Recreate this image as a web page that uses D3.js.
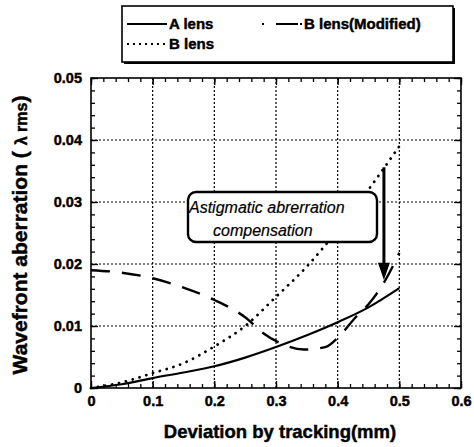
<!DOCTYPE html>
<html>
<head>
<meta charset="utf-8">
<script src="https://cdn.jsdelivr.net/npm/d3@7"></script>
<style>
  body { margin: 0; background: #fff; }
  text { font-family: "Liberation Sans", Arial, sans-serif; }
  .heavy { font-weight: bold; stroke: #000; stroke-width: 0.45px; }
</style>
</head>
<body>
<svg id="my_svg"></svg>
<script>
const width = 474;
const height = 447;

// data
const xValues = [0, 0.05, 0.1, 0.15, 0.2, 0.25, 0.3, 0.35, 0.4, 0.45, 0.5];
const aLens = [0, 0.0006, 0.0016, 0.0025, 0.0035, 0.0049, 0.0066, 0.0085, 0.0106, 0.013, 0.0161];
const bLens = [0, 0.0009, 0.0024, 0.004, 0.0067, 0.01, 0.0147, 0.0196, 0.0255, 0.032, 0.039];
const bModX = [0, 0.05, 0.1, 0.15, 0.2, 0.25, 0.28, 0.31, 0.345, 0.38, 0.4, 0.43, 0.45, 0.475, 0.5];
const bModified = [0.019, 0.0186, 0.0177, 0.0162, 0.0142, 0.0114, 0.0088, 0.0071, 0.0062, 0.0066, 0.0081, 0.0115, 0.0135, 0.017, 0.0218];
const xTicks = [0, 0.1, 0.2, 0.3, 0.4, 0.5, 0.6];
const yTicks = [0, 0.01, 0.02, 0.03, 0.04, 0.05];

const margin = {left: 91, right: 13, top: 78, bottom: 59};

const svg = d3.select('#my_svg')
    .attr('width', width)
    .attr('height', height);

const x = d3.scaleLinear().domain([0, 0.6]).range([margin.left, width - margin.right]);
const y = d3.scaleLinear().domain([0, 0.05]).range([height - margin.bottom, margin.top]);

// grid
const grid_g = svg.append('g')
    .attr('stroke', '#000')
    .attr('stroke-width', 1.2)
    .attr('stroke-dasharray', '2,2');
grid_g.selectAll('.gx')
    .data(xTicks.slice(1, -1))
    .enter().append('line')
    .attr('x1', d => x(d)).attr('x2', d => x(d))
    .attr('y1', y(0)).attr('y2', y(0.05));
grid_g.selectAll('.gy')
    .data(yTicks.slice(1, -1))
    .enter().append('line')
    .attr('x1', x(0)).attr('x2', x(0.6))
    .attr('y1', d => y(d)).attr('y2', d => y(d));

// axes with inner ticks on all four sides
const xMinor = d3.range(0, 0.6001, 0.02);
const yMinor = d3.range(0, 0.05001, 0.002);

function addAxis(axis, tr) {
    const g = svg.append('g')
        .attr('transform', tr)
        .call(axis);
    g.select('.domain').remove();
    g.selectAll('line').attr('stroke-width', 1.3);
    return g;
}

addAxis(d3.axisBottom(x).tickValues(xMinor).tickSize(-4).tickFormat(''), `translate(0,${y(0)})`);
addAxis(d3.axisTop(x).tickValues(xMinor).tickSize(-4).tickFormat(''), `translate(0,${y(0.05)})`);
addAxis(d3.axisLeft(y).tickValues(yMinor).tickSize(-4).tickFormat(''), `translate(${x(0)},0)`);
addAxis(d3.axisRight(y).tickValues(yMinor).tickSize(-4).tickFormat(''), `translate(${x(0.6)},0)`);

const xAxis = addAxis(d3.axisBottom(x).tickValues(xTicks).tickSize(-7).tickPadding(8)
    .tickFormat(d => d === 0 ? '0' : d3.format('.1f')(d)), `translate(0,${y(0)})`);
xAxis.selectAll('text')
    .attr('class', 'heavy')
    .attr('font-size', 14.5).attr('fill', '#000')
    .attr('font-family', '"Liberation Sans", Arial, sans-serif');

const yAxis = addAxis(d3.axisLeft(y).tickValues(yTicks).tickSize(-7).tickPadding(9)
    .tickFormat(d => d === 0 ? '0' : d3.format('.2f')(d)), `translate(${x(0)},0)`);
yAxis.selectAll('text')
    .attr('class', 'heavy')
    .attr('font-size', 14.5).attr('fill', '#000')
    .attr('font-family', '"Liberation Sans", Arial, sans-serif');

addAxis(d3.axisTop(x).tickValues(xTicks).tickSize(-7).tickFormat(''), `translate(0,${y(0.05)})`);
addAxis(d3.axisRight(y).tickValues(yTicks).tickSize(-7).tickFormat(''), `translate(${x(0.6)},0)`);

// frame
svg.append('rect')
    .attr('x', x(0)).attr('y', y(0.05))
    .attr('width', x(0.6) - x(0)).attr('height', y(0) - y(0.05))
    .attr('fill', 'none').attr('stroke', '#000').attr('stroke-width', 1.6);

// curves
const line = d3.line().curve(d3.curveMonotoneX);

svg.append('path')
    .attr('d', line(xValues.map((d, i) => [x(d), y(aLens[i])])))
    .attr('fill', 'none').attr('stroke', '#000').attr('stroke-width', 2.2);

svg.append('path')
    .attr('d', line(xValues.map((d, i) => [x(d), y(bLens[i])])))
    .attr('fill', 'none').attr('stroke', '#000').attr('stroke-width', 2.8)
    .attr('stroke-linecap', 'round')
    .attr('stroke-dasharray', '0.1,7');

svg.append('path')
    .attr('d', line(bModX.map((d, i) => [x(d), y(bModified[i])])))
    .attr('fill', 'none').attr('stroke', '#000').attr('stroke-width', 2.4)
    .attr('stroke-dasharray', '19,12');

// annotation box
const note_g = svg.append('g');
note_g.append('rect')
    .attr('x', 188).attr('y', 192)
    .attr('width', 189).attr('height', 50)
    .attr('rx', 8)
    .attr('fill', '#fff').attr('stroke', '#000').attr('stroke-width', 2.4);
note_g.append('text')
    .attr('x', 189).attr('y', 213)
    .attr('font-size', 16).attr('font-style', 'italic')
    .attr('stroke', '#000').attr('stroke-width', 0.2)
    .text('Astigmatic abrerration');
note_g.append('text')
    .attr('x', 213).attr('y', 236)
    .attr('font-size', 16).attr('font-style', 'italic')
    .attr('stroke', '#000').attr('stroke-width', 0.2)
    .text('compensation');

// arrow
const arrowX = x(0.475);
svg.append('line')
    .attr('x1', arrowX).attr('x2', arrowX)
    .attr('y1', y(0.0356)).attr('y2', y(0.0195))
    .attr('stroke', '#000').attr('stroke-width', 3);
svg.append('path')
    .attr('d', `M${arrowX - 6},${y(0.0202)} L${arrowX + 6},${y(0.0202)} L${arrowX},${y(0.0174)} Z`)
    .attr('fill', '#000');

// legend
const legend_g = svg.append('g');
legend_g.append('rect')
    .attr('x', 124).attr('y', 8)
    .attr('width', 331).attr('height', 56)
    .attr('fill', '#000');
legend_g.append('rect')
    .attr('x', 122).attr('y', 6)
    .attr('width', 331).attr('height', 56)
    .attr('fill', '#fff').attr('stroke', '#000').attr('stroke-width', 1.6);

const legendItems = [
    {name: 'A lens', x: 127, y: 24, dash: null},
    {name: 'B lens', x: 127, y: 44, dash: '2,4'},
    {name: 'B lens(Modified)', x: 262, y: 24, dash: '2,12,22'}
];
const items = legend_g.selectAll('.leg')
    .data(legendItems)
    .enter().append('g');
items.append('line')
    .attr('x1', d => d.x).attr('x2', d => d.x + 40)
    .attr('y1', d => d.y).attr('y2', d => d.y)
    .attr('stroke', '#000').attr('stroke-width', 1.8)
    .attr('stroke-dasharray', d => d.dash);
items.append('text')
    .attr('class', 'heavy')
    .attr('x', d => d.x + 42).attr('y', d => d.y + 5)
    .attr('font-size', 15)
    .text(d => d.name);

// axis titles
svg.append('text')
    .attr('class', 'heavy')
    .attr('x', (x(0) + x(0.6)) / 2 + 4).attr('y', 438)
    .attr('text-anchor', 'middle')
    .attr('font-size', 18.5)
    .text('Deviation by tracking(mm)');

const yt = svg.append('text')
    .attr('class', 'heavy')
    .attr('transform', `translate(27,${(y(0) + y(0.05)) / 2 + 2}) rotate(-90)`)
    .attr('text-anchor', 'middle')
    .attr('font-size', 21);
yt.append('tspan').text('Wavefront aberration ( ');
yt.append('tspan').attr('font-size', 16).text('λ rms');
yt.append('tspan').text(')');
</script>
</body>
</html>
